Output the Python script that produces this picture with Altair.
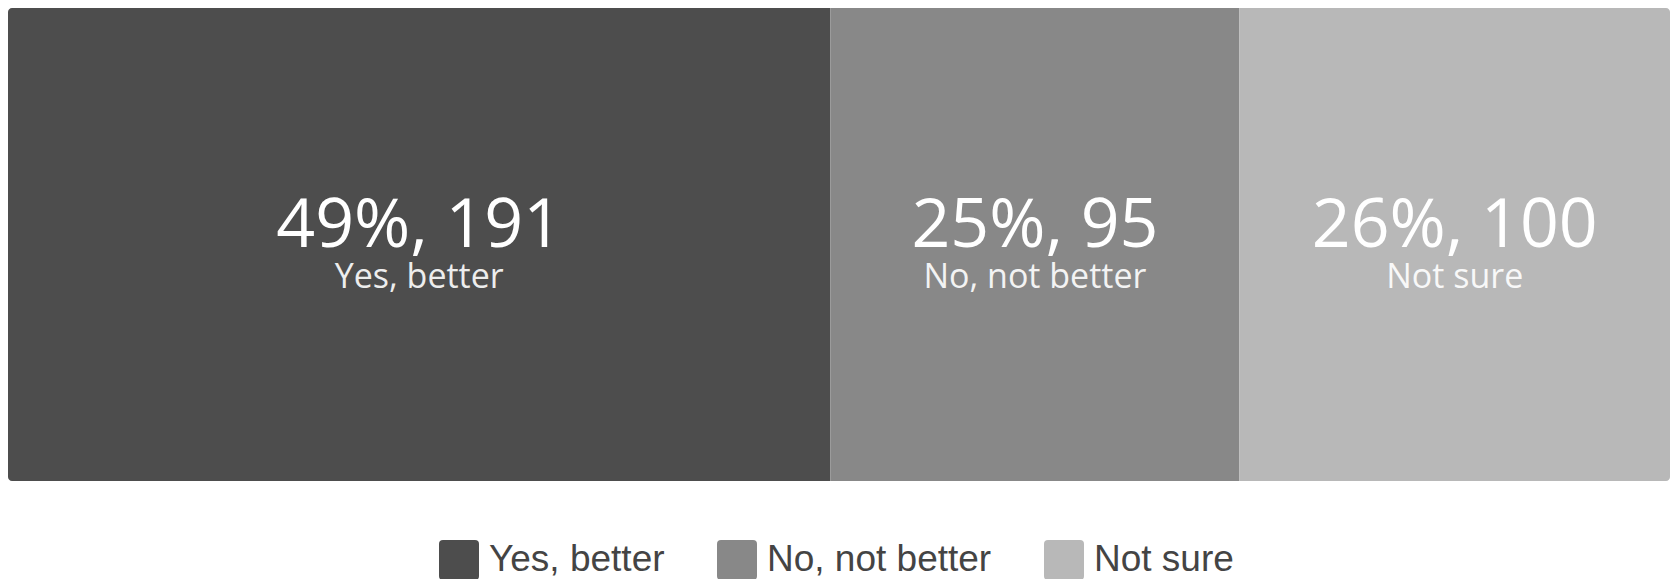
import altair as alt
import pandas as pd

categories = ["Yes, better", "No, not better", "Not sure"]
counts = [191, 95, 100]
percents = [49, 25, 26]
colors = ["#4d4d4d", "#888888", "#b8b8b8"]

df = pd.DataFrame({
    "answer": categories,
    "count": counts,
    "pct": percents,
    "order": list(range(len(categories))),
    "row": ["all"] * len(categories),
})

total = sum(counts)
xscale = alt.Scale(domain=[0, total], nice=False, zero=True)

rounded_square = ("M-0.8,-1 L0.8,-1 Q1,-1 1,-0.8 L1,0.8 Q1,1 0.8,1 "
                  "L-0.8,1 Q-1,1 -1,0.8 L-1,-0.8 Q-1,-1 -0.8,-1 Z")

base = alt.Chart(df)

bars = base.mark_bar(cornerRadius=4).encode(
    x=alt.X("count:Q", stack="zero", scale=xscale, axis=None),
    y=alt.Y("row:N", axis=None,
            scale=alt.Scale(range=[0, 473], paddingInner=0, paddingOuter=0)),
    order=alt.Order("order:Q"),
    color=alt.Color(
        "answer:N",
        sort=categories,
        scale=alt.Scale(domain=categories, range=colors),
        legend=alt.Legend(
            title=None,
            orient="none",
            legendX=431,
            legendY=532,
            direction="horizontal",
            symbolType=rounded_square,
            symbolSize=1600,
            symbolStrokeWidth=0,
            symbolOpacity=1,
            labelFont="Liberation Sans",
            labelFontSize=37,
            labelColor="#444444",
            labelOffset=10,
            labelLimit=500,
            columnPadding=52,
            padding=0,
        ),
    ),
)

labelled = base.transform_window(
    cum="sum(count)", sort=[alt.SortField("order")], frame=[None, 0]
).transform_calculate(
    mid="datum.cum - datum.count / 2",
    big="datum.pct + '%, ' + datum.count",
)

big_text = labelled.mark_text(
    font="Open Sans", fontSize=68, color="white", baseline="alphabetic", align="center"
).encode(
    x=alt.X("mid:Q", scale=xscale, axis=None),
    y=alt.value(239),
    text="big:N",
)

small_text = labelled.mark_text(
    font="Open Sans", fontSize=34, color="white", opacity=0.9,
    baseline="alphabetic", align="center"
).encode(
    x=alt.X("mid:Q", scale=xscale, axis=None),
    y=alt.value(280),
    text="answer:N",
)

chart = alt.layer(bars, big_text, small_text).properties(
    width=1662,
    height=571,
    autosize=alt.AutoSizeParams(type="none"),
    padding=0,
    background="white",
).configure_view(stroke=None)

chart.save("out.html", embed_options={"renderer": "svg", "actions": False})
